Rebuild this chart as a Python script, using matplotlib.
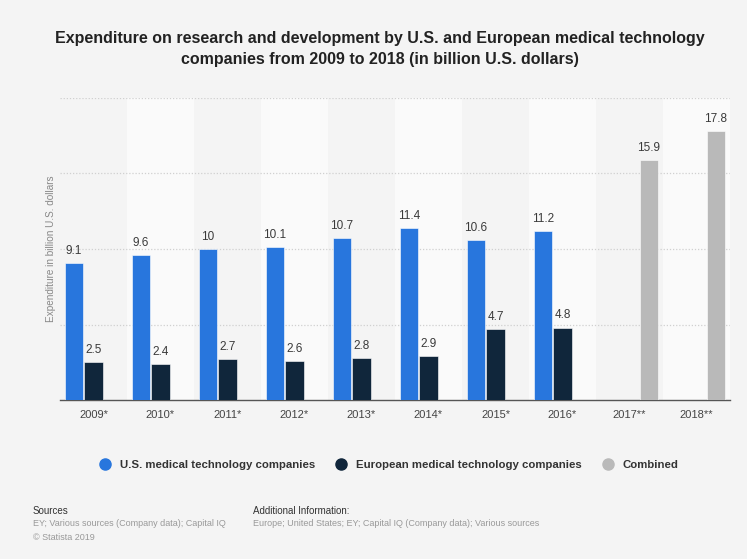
import numpy as np
import matplotlib.pyplot as plt
from matplotlib.lines import Line2D

plt.rcParams['font.family'] = ['Liberation Sans', 'DejaVu Sans']

years = ['2009*', '2010*', '2011*', '2012*', '2013*', '2014*', '2015*', '2016*', '2017**', '2018**']
us = [9.1, 9.6, 10, 10.1, 10.7, 11.4, 10.6, 11.2, None, None]
europe = [2.5, 2.4, 2.7, 2.6, 2.8, 2.9, 4.7, 4.8, None, None]
combined = [None, None, None, None, None, None, None, None, 15.9, 17.8]

c_us = '#2876dd'
c_eu = '#10263b'
c_comb = '#b9b9b9'
bg = '#f4f4f4'

fig = plt.figure(figsize=(7.47, 5.59), dpi=100)
fig.patch.set_facecolor(bg)
ax = fig.add_axes([60 / 747, 159 / 559, 670 / 747, 302 / 559])
ax.set_facecolor(bg)

x = np.arange(len(years))
w = 0.27
off = 0.29

# lighter band behind every second year
for i in x:
    if i % 2 == 1:
        ax.axvspan(i - 0.5, i + 0.5, color='#fafafa', zorder=0, lw=0)


def draw(vals, shift, color):
    for xi, v in zip(x, vals):
        if v is None:
            continue
        ax.bar(xi + shift, v, w, color=color, zorder=3, edgecolor='white', linewidth=0.4)
        ax.text(xi + shift, v + 0.4, f'{v:g}', ha='center', va='bottom',
                fontsize=8.5, color='#3a3a3a', zorder=4)


draw(us, -off, c_us)
draw(europe, 0, c_eu)
draw(combined, off, c_comb)

ax.set_xlim(-0.5, len(years) - 0.5)
ax.set_ylim(0, 20)
ax.set_yticks([5, 10, 15, 20])
ax.yaxis.grid(True, color='#d0d0d0', linestyle=(0, (1, 1.5)), linewidth=0.9, zorder=1)
ax.tick_params(axis='y', length=0, labelleft=False)
ax.set_xticks(x)
ax.set_xticklabels(years, fontsize=8, color='#444444')
ax.tick_params(axis='x', length=0, pad=7)
for s in ['top', 'right', 'left']:
    ax.spines[s].set_visible(False)
ax.spines['bottom'].set_color('#555555')
ax.spines['bottom'].set_linewidth(1)
ax.set_ylabel('Expenditure in billion U.S. dollars', fontsize=7.2, color='#888888', labelpad=3)

fig.text(0.508, 1 - 49 / 559,
         'Expenditure on research and development by U.S. and European medical technology\n'
         'companies from 2009 to 2018 (in billion U.S. dollars)',
         ha='center', va='center', fontsize=11.5, fontweight='bold', color='#222222',
         linespacing=1.5)

handles = [Line2D([], [], marker='o', linestyle='', markersize=8, color=c)
           for c in (c_us, c_eu, c_comb)]
labels = ['U.S. medical technology companies', 'European medical technology companies', 'Combined']
leg = fig.legend(handles, labels, loc='center', bbox_to_anchor=(386 / 747, 1 - 465 / 559),
                 ncol=3, frameon=False, fontsize=8.2, handletextpad=0.3, columnspacing=1.3)
for t in leg.get_texts():
    t.set_color('#333333')
    t.set_fontweight('bold')

fig.text(33 / 747, 1 - 511 / 559, 'Sources', fontsize=7, color='#333333', va='center')
fig.text(33 / 747, 1 - 524 / 559, 'EY; Various sources (Company data); Capital IQ',
         fontsize=6.5, color='#999999', va='center')
fig.text(33 / 747, 1 - 537 / 559, '\u00a9 Statista 2019', fontsize=6.5, color='#999999', va='center')
fig.text(253 / 747, 1 - 511 / 559, 'Additional Information:', fontsize=7, color='#333333', va='center')
fig.text(253 / 747, 1 - 524 / 559,
         'Europe; United States; EY; Capital IQ (Company data); Various sources',
         fontsize=6.5, color='#999999', va='center')

fig.savefig('out.png', dpi=100, facecolor=bg)
